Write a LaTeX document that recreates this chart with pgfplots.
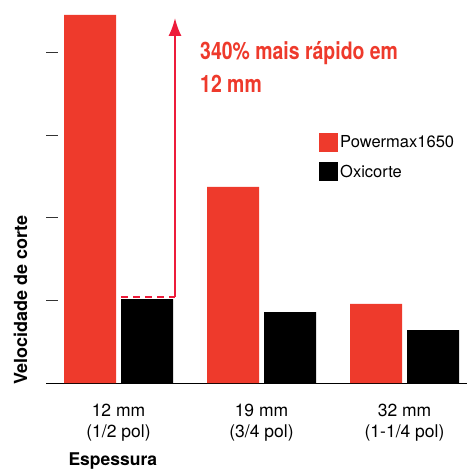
\documentclass[border=0pt]{standalone}
\usepackage{fontspec}
\setmainfont{TeX Gyre Heros}
\newfontfamily\condfont[FakeStretch=0.81]{TeX Gyre Heros}
\usepackage{pgfplots}
\pgfplotsset{compat=1.18}
\usetikzlibrary{arrows.meta}
\definecolor{pmred}{RGB}{238,58,44}
\definecolor{arrowred}{RGB}{237,28,58}

\begin{document}
\begin{tikzpicture}
\path[use as bounding box] (-46pt,-87pt) rectangle (421pt,383pt);
\begin{axis}[
    at={(0pt,0pt)}, anchor=south west,
    scale only axis, width=421pt, height=368pt,
    xmin=-0.507, xmax=2.437,
    ymin=0, ymax=4.46,
    axis x line=bottom, axis y line=left,
    x axis line style={-, line width=1pt},
    y axis line style={draw=none},
    ybar=5pt, bar width=52pt,
    xtick={0,1,2},
    xticklabels={{12 mm\\(1/2 pol)},{19 mm\\(3/4 pol)},{32 mm\\(1-1/4 pol)}},
    xticklabel style={align=center, inner sep=0pt, yshift=-21pt,
        font=\fontsize{17.5}{20.5}\selectfont},
    xtick style={draw=none},
    ytick={1,2,3,4}, yticklabels={},
    ytick style={line width=1pt, color=black!80},
    tick align=inside, major tick length=12pt,
    ylabel={Velocidade de corte},
    xlabel={Espessura},
    every axis y label/.style={at={(axis description cs:-0.0451,0.2255)},
        rotate=90, anchor=base, font=\bfseries\fontsize{18}{20}\selectfont},
    every axis x label/.style={at={(axis description cs:0.0451,-0.224)},
        anchor=base west, font=\bfseries\fontsize{17.5}{20}\selectfont},
    legend style={at={(axis description cs:0.6485,0.6793)}, anchor=north west,
        draw=none, fill=none, inner sep=0pt, row sep=10pt,
        font=\fontsize{16.5}{20}\selectfont, cells={anchor=west}},
]
\addplot[fill=pmred, draw=none,
    legend image code/.code={\fill[pmred] (0pt,-9.5pt) rectangle (19pt,9.5pt);}]
    coordinates {(0,4.46) (1,2.376) (2,0.958)};
\addplot[fill=black, draw=none,
    legend image code/.code={\fill[black] (0pt,-9.5pt) rectangle (19pt,9.5pt);}]
    coordinates {(0,1.018) (1,0.86) (2,0.642)};
\legend{Powermax1650, Oxicorte}

\draw[arrowred, line width=2pt, dash pattern=on 7pt off 5pt]
    (axis cs:0.0175,1.042) -- (axis cs:0.395,1.042);
\draw[arrowred, line width=2pt, -{Latex[length=18pt,width=13pt]}]
    (axis cs:0.395,1.042) -- (axis cs:0.395,4.424);
\end{axis}
\node[anchor=base west, inner sep=0pt, text=pmred,
    font=\condfont\bfseries\fontsize{24}{30}\selectfont] at (154pt,323pt) {340\% mais rápido em};
\node[anchor=base west, inner sep=0pt, text=pmred,
    font=\condfont\bfseries\fontsize{24}{30}\selectfont] at (154pt,290pt) {12 mm};
\end{tikzpicture}
\end{document}
